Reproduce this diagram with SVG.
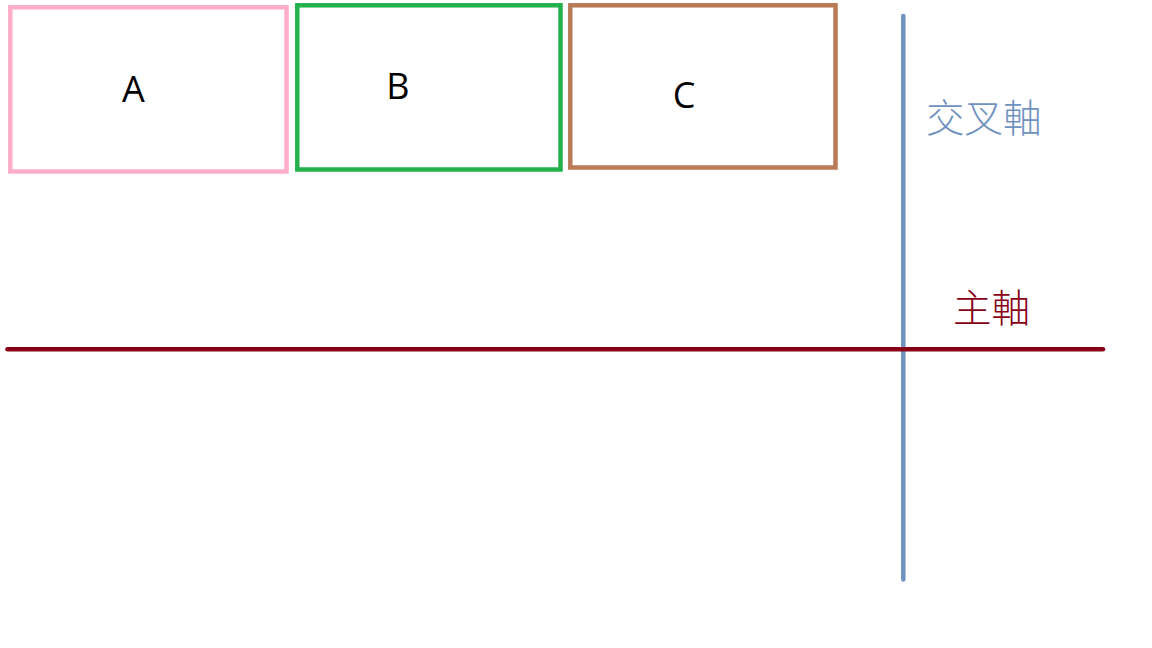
<svg xmlns="http://www.w3.org/2000/svg" width="1152" height="648" viewBox="0 0 1152 648">
<style>
.box{fill:none;stroke-width:4.5}
.lbl{font-family:"Open Sans","Noto Sans",sans-serif;font-size:36px;fill:#000;text-anchor:middle}
.cjk{font-family:"Noto Sans CJK TC","Noto Sans CJK SC",sans-serif;font-size:38.5px;font-weight:300}
.axis{stroke-width:4.5;stroke-linecap:round;fill:none}
</style>
<rect width="1152" height="648" fill="#fff"/>
<g id="nodeA">
<rect class="box" x="10.3" y="7.3" width="276.2" height="164.2" stroke="#FFAEC9"/>
<text class="lbl" x="133.3" y="101.5">A</text>
</g>
<g id="nodeB">
<rect class="box" x="297.3" y="5.3" width="263.2" height="164.2" stroke="#22B14C"/>
<text class="lbl" x="398" y="99">B</text>
</g>
<g id="nodeC">
<rect class="box" x="570.3" y="5.3" width="265.2" height="162.2" stroke="#B97A57"/>
<text class="lbl" x="684" y="108">C</text>
</g>
<g id="connectors">
<line class="axis" x1="903.3" y1="16" x2="903.3" y2="579.5" stroke="#7092BE"/>
<line class="axis" x1="7.5" y1="349.3" x2="1103" y2="349.3" stroke="#880015"/>
</g>
<g id="labels">
<text class="cjk" x="926" y="131.5" fill="#7092BE">交叉軸</text>
<text class="cjk" x="953" y="321.5" fill="#880015">主軸</text>
</g>
</svg>
